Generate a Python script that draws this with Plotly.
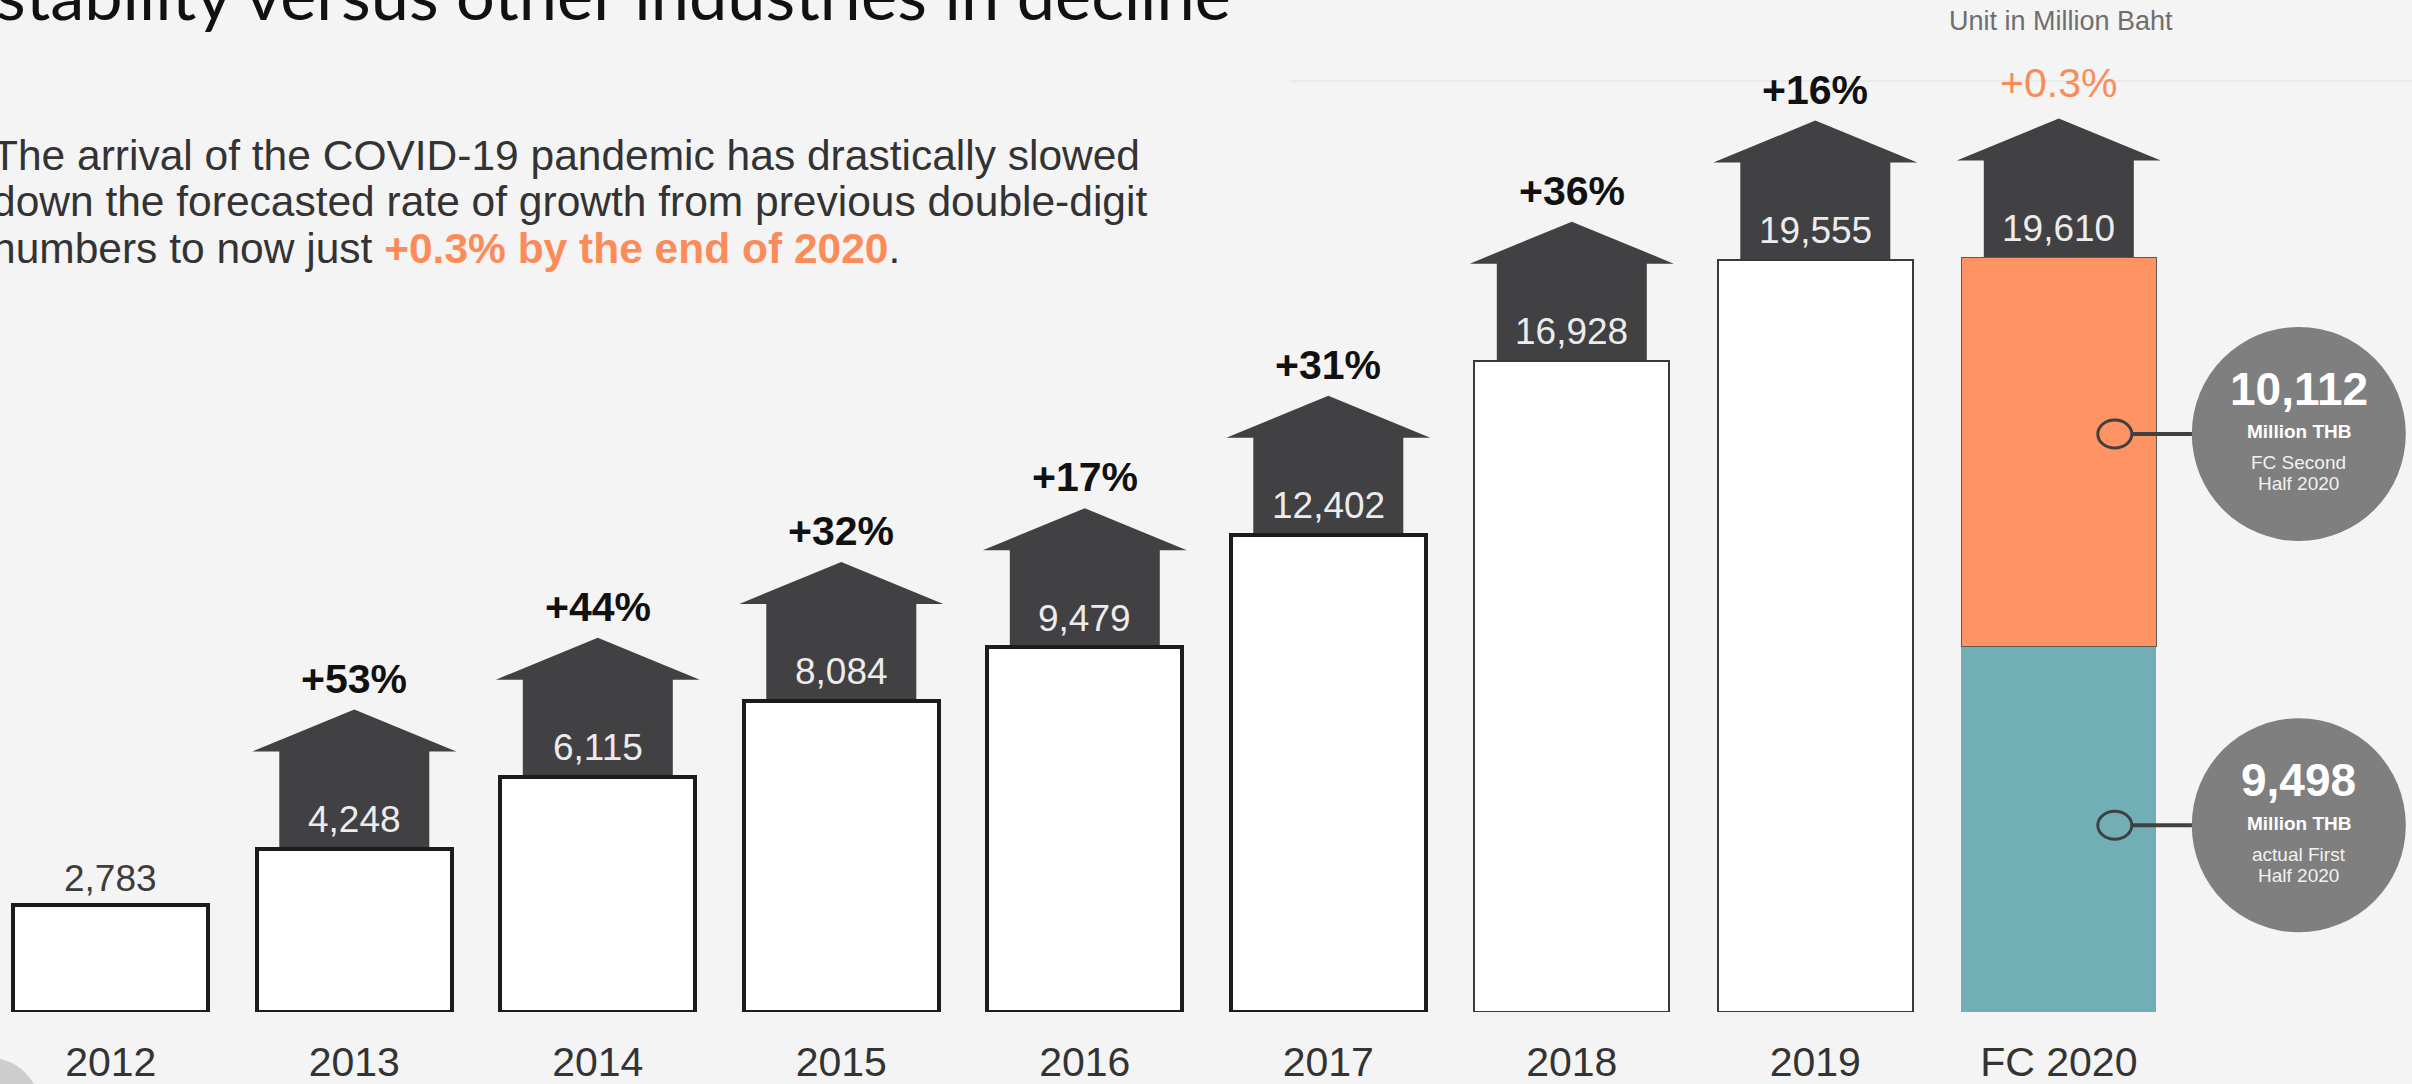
import plotly.graph_objects as go

# ---- data -------------------------------------------------------------
years = ["2012", "2013", "2014", "2015", "2016", "2017", "2018", "2019", "FC 2020"]
revenue = [2783, 4248, 6115, 8084, 9479, 12402, 16928, 19555]      # 2012-2019, million THB
fc2020_first_half = 9498       # actual first half 2020
fc2020_second_half = 10112     # forecast second half 2020
growth_labels = ["", "+53%", "+44%", "+32%", "+17%", "+31%", "+36%", "+16%", "+0.3%"]

totals = revenue + [fc2020_first_half + fc2020_second_half]
xpos = list(range(len(years)))

# ---- canvas / style ----------------------------------------------------
W, H = 2412, 1084
PLOT_H = 1012                 # plot area height in px (margin t=0)
BG = "#f4f4f4"
ARROW = "#414042"
ORANGE = "#ff9364"
ORANGE_TXT = "#fb8c5a"
TEAL = "#72aeb6"
BUBBLE = "#7f7f7f"
SANS = "Liberation Sans, Arial, sans-serif"

STEP = 243.5                  # px between category centres
FIRST = 110.8                 # px of first centre
x_range = [-FIRST / STEP, (W - FIRST) / STEP]
y_range = [0, 26300]


def px_x(p):
    return p / W


def px_y(p):
    return 1 - p / PLOT_H


fig = go.Figure()

# white yearly bars
fig.add_trace(go.Bar(
    x=xpos[:8], y=revenue, width=0.8,
    marker=dict(color="#ffffff",
                line=dict(color=["#1c1c1c"] * 6 + ["#3a3a3a"] * 2,
                          width=[4, 4, 4, 4, 4, 4, 2, 2])),
    hoverinfo="skip", showlegend=False,
))
# FC 2020 stacked: first half (actual) + second half (forecast)
fig.add_trace(go.Bar(
    x=[8], y=[fc2020_first_half], width=0.8,
    marker=dict(color=TEAL, line=dict(width=0)),
    hoverinfo="skip", showlegend=False,
))
fig.add_trace(go.Bar(
    x=[8], y=[fc2020_second_half], width=0.8,
    marker=dict(color=ORANGE, line=dict(color="#5a5a5a", width=1)),
    hoverinfo="skip", showlegend=False,
))

shapes = []
annotations = []

# growth arrows sitting on top of each bar (from 2013)
arrow_path = "M -75,0 L -75,97 L -102,97 L 0,139 L 102,97 L 75,97 L 75,0 Z"
for i in range(1, len(years)):
    shapes.append(dict(
        type="path", path=arrow_path, layer="below",
        xref="x", yref="y", xsizemode="pixel", ysizemode="pixel",
        xanchor=xpos[i], yanchor=totals[i],
        fillcolor=ARROW, line=dict(width=0),
    ))
    # value inside the arrow stem
    annotations.append(dict(
        x=xpos[i], y=totals[i], xref="x", yref="y", yshift=29,
        text=f"{totals[i]:,}", showarrow=False, yanchor="middle",
        font=dict(family=SANS, size=37, color="#ececec"),
    ))
    # growth label above the arrow head
    is_fc = years[i].startswith("FC")
    annotations.append(dict(
        x=xpos[i], y=totals[i], xref="x", yref="y", yshift=174 if is_fc else 170,
        text=growth_labels[i] if is_fc else f"<b>{growth_labels[i]}</b>",
        showarrow=False, yanchor="middle",
        font=dict(family=SANS, size=41, color=ORANGE_TXT if is_fc else "#111111"),
    ))

# first year: plain value above bar
annotations.append(dict(
    x=xpos[0], y=totals[0], xref="x", yref="y", yshift=26,
    text=f"{totals[0]:,}", showarrow=False, yanchor="middle",
    font=dict(family=SANS, size=37, color="#3c3c3c"),
))

# callout bubbles for the two halves of 2020
callouts = [
    dict(value=fc2020_second_half, mid=fc2020_first_half + fc2020_second_half / 2, dy=18,
         lines=["FC Second", "Half 2020"]),
    dict(value=fc2020_first_half, mid=fc2020_first_half / 2, dy=4,
         lines=["actual First", "Half 2020"]),
]
RING_X, BUB_X, BUB_R = 56, 240, 107
for c in callouts:
    dy = c["dy"]
    common = dict(xref="x", yref="y", xsizemode="pixel", ysizemode="pixel",
                  xanchor=8, yanchor=c["mid"])
    shapes.append(dict(type="line", x0=RING_X + 17, x1=BUB_X - BUB_R + 2, y0=dy, y1=dy,
                       line=dict(color="#404040", width=4), **common))
    shapes.append(dict(type="circle", x0=RING_X - 17, x1=RING_X + 17, y0=dy - 14, y1=dy + 14,
                       line=dict(color="#404040", width=3), fillcolor="rgba(0,0,0,0)", **common))
    shapes.append(dict(type="circle", x0=BUB_X - BUB_R, x1=BUB_X + BUB_R,
                       y0=dy - BUB_R, y1=dy + BUB_R,
                       line=dict(width=0), fillcolor=BUBBLE, **common))
    texts = [
        (f"<b>{c['value']:,}</b>", 46, "#ffffff", 45),
        ("<b>Million THB</b>", 19, "#ffffff", 2),
        (c["lines"][0], 19, "#f2f2f2", -29),
        (c["lines"][1], 19, "#f2f2f2", -50),
    ]
    for t, size, col, off in texts:
        annotations.append(dict(
            x=8, y=c["mid"], xref="x", yref="y", xshift=BUB_X, yshift=dy + off,
            text=t, showarrow=False, yanchor="middle", xanchor="center",
            font=dict(family=SANS, size=size, color=col),
        ))

# headline (partly above the page edge) and commentary
annotations.append(dict(
    x=px_x(-6), y=px_y(37), xref="paper", yref="paper", xanchor="left", yanchor="bottom",
    text="stability versus other industries in decline", showarrow=False,
    font=dict(family="Lato, Open Sans, sans-serif", size=68.5, color="#111111"),
))
para = [
    "The arrival of the COVID-19 pandemic has drastically slowed",
    "down the forecasted rate of growth from previous double-digit",
    f"numbers to now just <b><span style='color:{ORANGE_TXT}'>+0.3% by the end of 2020</span></b>.",
]
for k, line in enumerate(para):
    annotations.append(dict(
        x=px_x(-10), y=px_y(155 + 46.5 * k), xref="paper", yref="paper",
        xanchor="left", yanchor="middle", text=line, showarrow=False,
        font=dict(family=SANS, size=42.5, color="#333333"),
    ))
annotations.append(dict(
    x=px_x(2061), y=px_y(21), xref="paper", yref="paper", xanchor="center", yanchor="middle",
    text="Unit in Million Baht", showarrow=False,
    font=dict(family=SANS, size=27, color="#6e6e6e"),
))

# faint header rule and corner badge
shapes.append(dict(type="line", xref="paper", yref="paper", x0=px_x(1290), x1=1,
                   y0=px_y(81), y1=px_y(81), line=dict(color="#ebebeb", width=2)))
shapes.append(dict(type="circle", xref="paper", yref="paper",
                   x0=px_x(-60), x1=px_x(40), y0=px_y(1158), y1=px_y(1058),
                   fillcolor="#cdcdcd", line=dict(width=0)))

fig.update_layout(
    width=W, height=H,
    margin=dict(l=0, r=0, t=0, b=H - PLOT_H, pad=0, autoexpand=False),
    paper_bgcolor=BG, plot_bgcolor=BG,
    barmode="stack", bargap=0.2,
    showlegend=False,
    shapes=shapes, annotations=annotations,
    xaxis=dict(range=x_range, tickmode="array", tickvals=xpos, ticktext=years,
               showgrid=False, zeroline=False, showline=False, automargin=False,
               ticks="outside", ticklen=14, tickcolor="rgba(0,0,0,0)",
               tickfont=dict(family=SANS, size=41, color="#333333"),
               fixedrange=True),
    yaxis=dict(range=y_range, showgrid=False, zeroline=False, showline=False,
               automargin=False, showticklabels=False, ticks="", fixedrange=True),
)

fig.write_html("out.html", config={"displayModeBar": False})
